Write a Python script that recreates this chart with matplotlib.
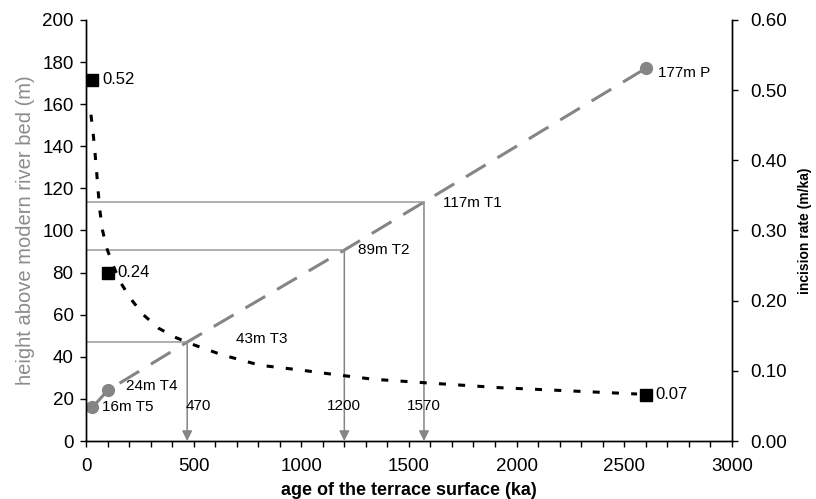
import numpy as np
import matplotlib
matplotlib.use('Agg')
import matplotlib.pyplot as plt

plt.rcParams['font.family'] = ['Liberation Sans', 'DejaVu Sans']

# ── data ────────────────────────────────────────────────────────────
# height of terraces (left axis) — points joined by the gray dashed line
age_h     = [30, 100, 470, 1200, 1570, 2600]
height    = [16, 24, 47, 90.7, 113.5, 177]
h_labels  = ['16m T5', '24m T4', '43m T3', '89m T2', '117m T1', '177m P']
marked    = [0, 1, 5]          # indices drawn with a circle

# terraces (arrows down to age axis)
arrow_age = [470, 1200, 1570]
arrow_h   = [47, 90.7, 113.5]

# incision rate (right axis)
rate_age  = [30, 100, 2600]
rate      = [0.515, 0.24, 0.066]
rate_lbl  = ['0.52', '0.24', '0.07']

curve_age  = [23, 34, 42, 50, 57, 65, 77, 96, 125, 158, 212, 266, 336, 413,
              483, 630, 808, 1000, 1148, 1335, 1575, 1923, 2279, 2560]
curve_rate = [0.465, 0.436, 0.41, 0.381, 0.354, 0.327, 0.30, 0.275, 0.251,
              0.227, 0.201, 0.180, 0.161, 0.148, 0.139, 0.123, 0.108, 0.101,
              0.095, 0.088, 0.083, 0.076, 0.071, 0.067]

GRAY = '#858585'
LGRAY = '#9a9a9a'

fig = plt.figure(figsize=(8.16, 4.99), dpi=100)
ax = fig.add_axes([0.1054, 0.1162, 0.7914, 0.8438])
ax2 = ax.twinx()

# ── left axis: heights ──────────────────────────────────────────────
ax.plot(age_h, height, color=GRAY, lw=2.2, ls=(0, (7.5, 4.5)), dash_capstyle='butt')
ax.plot([age_h[i] for i in marked], [height[i] for i in marked], 'o',
        color=GRAY, ms=8.5, mec=GRAY)

for a, h in zip(arrow_age, arrow_h):
    ax.plot([0, a], [h, h], color=LGRAY, lw=1.1)
    ax.annotate('', xy=(a, 0), xytext=(a, h),
                arrowprops=dict(arrowstyle='-|>', color=GRAY, lw=1.1,
                                mutation_scale=15, shrinkA=0, shrinkB=0))
    ax.annotate(str(a), xy=(a, 0), xytext=(-1 if a == 470 else 0, 25),
                textcoords='offset points', ha='left' if a == 470 else 'center',
                va='center', fontsize=11)

h_offsets = [(7, 0), (13, 3), (35, 2), (10, 0), (14, -1), (9, -3)]
for a, h, lbl, off in zip(age_h, height, h_labels, h_offsets):
    ax.annotate(lbl, xy=(a, h), xytext=off, textcoords='offset points',
                ha='left', va='center', fontsize=11)

# ── right axis: incision rate ───────────────────────────────────────
ax2.plot(curve_age, curve_rate, color='black', lw=2.2, ls=(0, (2.3, 4)),
         dash_capstyle='butt')
ax2.plot(rate_age, rate, 's', color='black', ms=8.5)
for a, r, lbl in zip(rate_age, rate, rate_lbl):
    ax2.annotate(lbl, xy=(a, r), xytext=(7, 0), textcoords='offset points',
                 ha='left', va='center', fontsize=12)

# ── axes styling ────────────────────────────────────────────────────
ax.set_xlim(0, 3000)
ax.set_ylim(0, 200)
ax2.set_ylim(0, 0.6)
ax.set_xticks(np.arange(0, 3001, 500))
ax.set_xticks(np.arange(0, 3001, 100), minor=True)
ax.set_yticks(np.arange(0, 201, 20))
ax2.set_yticks(np.arange(0, 0.61, 0.1))
ax2.set_yticklabels([f'{v:.2f}' for v in np.arange(0, 0.61, 0.1)])

for a_ in (ax, ax2):
    a_.spines['top'].set_visible(False)
    for s in a_.spines.values():
        s.set_linewidth(1.0)
ax.tick_params(axis='x', which='both', direction='out', length=4, width=1,
               labelsize=13.5, pad=8)
ax.tick_params(axis='y', direction='out', length=4, width=1, labelsize=13.5, pad=5)
ax2.tick_params(axis='y', direction='out', length=4, width=1, labelsize=13.5, pad=9)

ax.set_xlabel('age of the terrace surface (ka)', fontsize=13, fontweight='bold',
              labelpad=5)
ax.set_ylabel('height above modern river bed (m)', fontsize=14.5, color='#8c8c8c',
              labelpad=5)
ax2.set_ylabel('incision rate (m/ka)', fontsize=10, fontweight='bold', labelpad=8)

fig.savefig('out.png', dpi=100)
plt.close(fig)
